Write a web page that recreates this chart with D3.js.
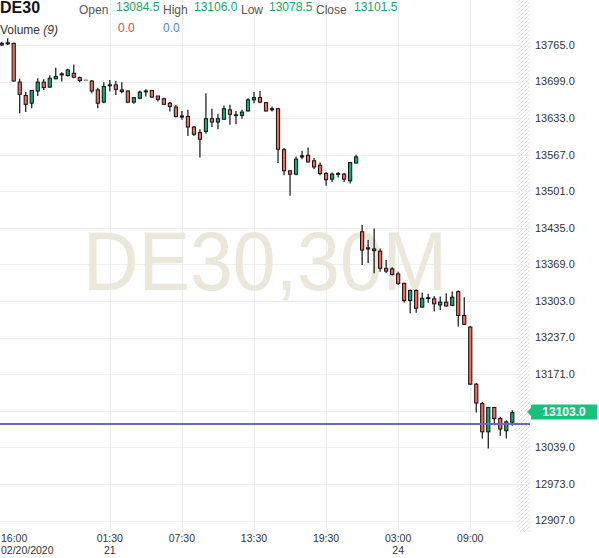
<!DOCTYPE html>
<html>
<head>
<meta charset="utf-8">
<script src="https://cdn.jsdelivr.net/npm/d3@7"></script>
<style>
  html, body { margin: 0; padding: 0; background: #fff; }
  svg { display: block; font-family: "Liberation Sans", Arial, sans-serif; }
</style>
</head>
<body>
<svg id="chart" width="599" height="558"></svg>
<script>
// ---------- data ----------
const symbol = "DE30";
const watermark = "DE30,30M";
const opens  = [13765,13767,13768,13698,13674,13660,13682,13698,13689,13704,13713,13710,13714,13706,13702,13700,13684,13662,13692,13693,
                13684,13682,13662,13669,13682,13683,13673,13668,13660,13653,13637,13636,13617,13607,13609,13632,13626,13631,13648,13638,
                13638,13646,13666,13670,13661,13650,13650,13576,13538,13532,13563,13566,13556,13548,13533,13523,13532,13532,13520,13552,
                13428,13399,13397,13393,13362,13361,13352,13335,13304,13322,13292,13308,13307,13296,13301,13295,13320,13277,13256,13153,
                13118,13067,13111,13091,13069,13084.5];
const highs  = [13771,13777,13769,13704,13680,13684,13705,13703,13710,13724,13716,13722,13730,13708,13702.5,13702,13688,13698,13702,13700,
                13698,13683,13671,13683,13685,13684,13673,13670,13662,13657,13646,13648,13619,13613,13678,13650,13641,13656,13657,13646,
                13648,13669,13680,13682,13662,13654,13651,13579,13539,13564,13574,13580,13561,13553,13536,13535,13536,13534,13554,13567,
                13440,13413,13434,13398,13377,13364,13356,13336,13324,13324,13318,13316,13312,13311,13317,13320,13322,13310,13258,13155,
                13121,13112,13112,13094,13088,13106];
const lows   = [13763,13765,13699,13642,13644,13651,13673,13684,13688,13703,13699,13708,13705,13698,13701.5,13678,13651,13660,13681,13675,
                13678,13660,13659,13667,13672,13670,13663,13657,13645,13634,13630,13601,13601,13562,13605,13617,13613,13630,13621,13622,
                13632,13645,13660,13660,13645,13645,13552,13530,13493,13530,13559,13553,13541,13530,13511,13518,13526,13518,13515,13552,
                13368,13371,13353,13356,13353,13349,13332,13300,13281,13282,13292,13300,13284,13287,13293,13294,13257,13260,13152,13102,
                13055,13037,13079,13060,13055,13078.5];
const closes = [13768,13769,13700,13676,13658,13683,13698,13688,13705,13708,13711,13720,13707,13701,13702,13682,13660,13690,13693,13685,
                13681,13662,13670,13680,13681,13671,13667,13658,13654,13636,13635,13617,13604,13595,13632,13626,13632,13650,13640,13639,
                13644,13666,13670,13662,13646,13648,13577,13538,13532,13559,13565,13554,13545,13533,13522,13532,13533,13523,13553,13563,
                13395,13397,13394,13362,13357,13351,13335,13304,13322,13290,13308,13309,13298,13301,13294,13310,13277,13261,13153,13119,
                13067,13111,13091,13072,13085,13101.5];

const priceTicks = [12907,12973,13039,13105,13171,13237,13303,13369,13435,13501,13567,13633,13699,13765];
const timeTickIndex = [-1, 18, 30, 42, 54, 66, 78];
const timeTickLabel = ["16:00","01:30","07:30","13:30","19:30","03:00","09:00"];
const timeTickDate  = ["02/20/2020","21","","","","24",""];

const headerLabels = ["Open","High","Low","Close"];
const headerValues = ["13084.5","13106.0","13078.5","13101.5"];
const volumeValues = ["0.0","0.0"];
const lastPriceLabel = 13103.0;
const horizLinePrice = 13081;

// ---------- layout ----------
const svg = d3.select("#chart");
const plotRight = 530, plotBottom = 532;
const GREEN = "#17a874", RED = "#f26a5e";

const x = d3.scaleLinear().domain([0, opens.length - 1]).range([1.7, 512.3]);
const y = d3.scaleLinear().domain([12907, 13765]).range([520.5, 45]);

// hatch pattern
const defs = svg.append("defs");
const pat = defs.append("pattern").attr("id","hatch").attr("patternUnits","userSpaceOnUse")
  .attr("width",4).attr("height",4);
pat.append("path").attr("d","M-1,1 l2,-2 M0,4 l4,-4 M3,5 l2,-2").attr("stroke","#e2e2e2").attr("stroke-width",1);

// hatched empty region
svg.append("rect").attr("x",517.5).attr("y",0).attr("width",plotRight-517.5).attr("height",plotBottom)
  .attr("fill","url(#hatch)");

// grid
const gridG = svg.append("g").attr("stroke","#efefef").attr("stroke-width",1);
gridG.selectAll("line.h").data(priceTicks).join("line")
  .attr("x1",0).attr("x2",plotRight)
  .attr("y1",d=>Math.round(y(d))+0.5).attr("y2",d=>Math.round(y(d))+0.5);
gridG.selectAll("line.v").data(timeTickIndex.filter(i=>i>=0)).join("line")
  .attr("y1",0).attr("y2",plotBottom)
  .attr("x1",d=>Math.round(x(d))+0.5).attr("x2",d=>Math.round(x(d))+0.5);

// watermark
svg.append("text").attr("x",83).attr("y",290)
  .attr("font-size",84).attr("fill","#ebe7da")
  .attr("textLength",364).attr("lengthAdjust","spacingAndGlyphs")
  .text(watermark);

// candles
const data = opens.map((o,i)=>({i, o, h:highs[i], l:lows[i], c:closes[i]}));
const cg = svg.append("g");
cg.selectAll("line.wick").data(data).join("line")
  .attr("x1",d=>x(d.i)).attr("x2",d=>x(d.i))
  .attr("y1",d=>y(d.h)).attr("y2",d=>y(d.l))
  .attr("stroke",d=>d.h-d.l<2?"#999":"#111").attr("stroke-width",1.2);
cg.selectAll("rect.body").data(data).join("rect")
  .attr("x",d=>x(d.i)-1.6).attr("width",3.2)
  .attr("y",d=>y(Math.max(d.o,d.c)))
  .attr("height",d=>Math.max(0.8, Math.abs(y(d.o)-y(d.c))))
  .attr("fill",d=>d.c>d.o?GREEN:(d.c<d.o?RED:"#999"))
  .attr("stroke",d=>d.c===d.o?"#999":"#111").attr("stroke-width",1);

// horizontal drawn line
svg.append("line").attr("x1",0).attr("x2",plotRight)
  .attr("y1",y(horizLinePrice)).attr("y2",y(horizLinePrice))
  .attr("stroke","#6b6cb9").attr("stroke-width",2);

// y axis labels
const fmt = d3.format(".1f");
svg.append("g").selectAll("text").data(priceTicks.filter(d=>Math.abs(y(d)-y(lastPriceLabel))>10)).join("text")
  .attr("x",535).attr("y",d=>y(d)).attr("dy","0.35em")
  .attr("font-size",11).attr("fill","#333").text(d=>fmt(d));

// last price marker
const ly = y(lastPriceLabel);
const mg = svg.append("g");
mg.append("path")
  .attr("d",`M527,${ly} L531,${ly-4} L531,${ly-7} Q531,${ly-7.5} 533,${ly-7.5} L597,${ly-7.5} L597,${ly+7.5} L533,${ly+7.5} Q531,${ly+7.5} 531,${ly+7} L531,${ly+4} Z`)
  .attr("fill","#19c27c");
mg.append("text").attr("x",564).attr("y",ly).attr("dy","0.36em").attr("text-anchor","middle")
  .attr("font-size",12).attr("font-weight","bold").attr("fill","#fff").text(fmt(lastPriceLabel));

// x axis labels
const xg = svg.append("g").attr("font-size",10.5).attr("fill","#333");
timeTickIndex.forEach((idx,k)=>{
  const px = idx < 0 ? 1 : x(idx);
  const anchor = idx < 0 ? "start" : "middle";
  xg.append("text").attr("x",px).attr("y",542).attr("text-anchor",anchor).text(timeTickLabel[k]);
  if (timeTickDate[k]) xg.append("text").attr("x",px).attr("y",554).attr("text-anchor",anchor).text(timeTickDate[k]);
});

// header
const hg = svg.append("g");
hg.append("text").attr("x",0).attr("y",13).attr("font-size",16).attr("font-weight","bold").attr("fill","#111").text(symbol);
const labelX = [79,163,241,316], valueX = [116,194,269,354];
headerLabels.forEach((t,k)=>{
  hg.append("text").attr("x",labelX[k]).attr("y",13.5).attr("font-size",12).attr("fill","#555").text(t);
  hg.append("text").attr("x",valueX[k]).attr("y",11).attr("font-size",12).attr("fill","#1aa464").text(headerValues[k]);
});
const vt = hg.append("text").attr("x",0).attr("y",33.5).attr("font-size",12).attr("fill","#333");
vt.append("tspan").text("Volume ");
vt.append("tspan").attr("font-style","italic").text("(9)");
hg.append("text").attr("x",118).attr("y",31.5).attr("font-size",12).attr("fill","#e0474c").text(volumeValues[0]);
hg.append("text").attr("x",163).attr("y",31.5).attr("font-size",12).attr("fill","#4a86e8").text(volumeValues[1]);
</script>
</body>
</html>
